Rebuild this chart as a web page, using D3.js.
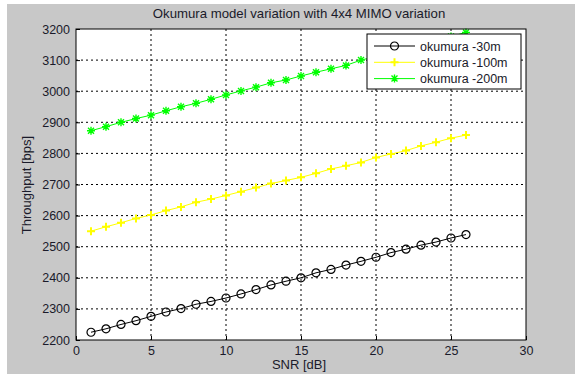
<!DOCTYPE html>
<html>
<head>
<meta charset="utf-8">
<script src="https://cdn.jsdelivr.net/npm/d3@7"></script>
<style>
  body { margin: 0; background: #fff; }
  text { font-family: 'Liberation Sans', Arial, sans-serif; fill: #1a1a2a; }
</style>
</head>
<body>
<div id="chart"></div>
<script>
// SNR points (dB)
const snr = d3.range(1, 27);

const okumura30 = [2225, 2236, 2250, 2262, 2276, 2290, 2301, 2315, 2324, 2335, 2348, 2362, 2377,
  2389, 2400, 2416, 2427, 2441, 2453, 2466, 2481, 2492, 2505, 2515, 2528, 2539];
const okumura100 = [2550, 2564, 2577, 2591, 2602, 2616, 2628, 2643, 2653, 2665, 2677, 2690, 2703,
  2713, 2723, 2736, 2750, 2760, 2771, 2787, 2798, 2809, 2824, 2836, 2849, 2859];
const okumura200 = [2873, 2886, 2900, 2912, 2923, 2937, 2950, 2961, 2974, 2988, 3001, 3013, 3027,
  3036, 3049, 3061, 3072, 3083, 3100, 3112, 3124, 3137, 3150, 3163, 3176, 3189];

const xTicks = [0, 5, 10, 15, 20, 25, 30];
const yTicks = [2200, 2300, 2400, 2500, 2600, 2700, 2800, 2900, 3000, 3100, 3200];

const seriesNames = ['okumura -30m', 'okumura -100m', 'okumura -200m'];
const seriesColors = ['#000000', '#ffff00', '#00ff00'];
const seriesMarkers = ['circle', 'plus', 'star'];

const width = 575, height = 374;
const margin = { top: 29, right: 49, bottom: 34, left: 76 };
const innerWidth = width - margin.left - margin.right;
const innerHeight = height - margin.top - margin.bottom;

const svg = d3.select('#chart')
  .append('svg')
    .attr('width', width)
    .attr('height', height);

// figure background
svg.append('rect')
  .attr('x', 7).attr('y', 4)
  .attr('width', width - 7).attr('height', height - 4)
  .attr('fill', '#c8c8c8');

const g = svg.append('g')
  .attr('transform', `translate(${margin.left}, ${margin.top})`);

const scaleX = d3.scaleLinear().domain([0, 30]).range([0, innerWidth]);
const scaleY = d3.scaleLinear().domain([2200, 3200]).range([innerHeight, 0]);

g.append('rect')
  .attr('width', innerWidth).attr('height', innerHeight)
  .attr('fill', '#fff');

// grid
g.append('g')
  .selectAll('line')
  .data(xTicks.slice(1, -1))
  .enter().append('line')
    .attr('x1', d => scaleX(d)).attr('x2', d => scaleX(d))
    .attr('y1', 0).attr('y2', innerHeight)
    .attr('stroke', '#000').attr('stroke-dasharray', '2,3');

g.append('g')
  .selectAll('line')
  .data(yTicks.slice(1, -1))
  .enter().append('line')
    .attr('y1', d => scaleY(d)).attr('y2', d => scaleY(d))
    .attr('x1', 0).attr('x2', innerWidth)
    .attr('stroke', '#000').attr('stroke-dasharray', '2,3');

// axes
const xAxis = d3.axisBottom(scaleX).tickValues(xTicks).tickSize(-4).tickPadding(6)
  .tickFormat(d3.format('d'));
const yAxis = d3.axisLeft(scaleY).tickValues(yTicks).tickSize(-4).tickPadding(6)
  .tickFormat(d3.format('d'));

g.append('g')
  .attr('transform', `translate(0, ${innerHeight})`)
  .call(xAxis)
  .call(s => s.select('.domain').remove())
  .call(s => s.selectAll('text').attr('font-size', 12.5).attr('fill', '#1a1a2a'));

g.append('g')
  .call(yAxis)
  .call(s => s.select('.domain').remove())
  .call(s => s.selectAll('text').attr('font-size', 12.5).attr('fill', '#1a1a2a'));

const plotArea = g.append('g');

function marker(sel, type, color) {
  if (type === 'circle') {
    sel.append('circle').attr('r', 4)
      .attr('fill', 'none').attr('stroke', color).attr('stroke-width', 1.2);
  } else if (type === 'plus') {
    sel.append('path').attr('d', 'M-4,0H4M0,-4V4')
      .attr('stroke', color).attr('stroke-width', 2);
  } else {
    sel.append('path').attr('d', 'M-4,0H4M0,-4V4M-3,-3L3,3M-3,3L3,-3')
      .attr('stroke', color).attr('stroke-width', 1.4);
  }
}

const line = d3.line()
  .x((d, i) => scaleX(snr[i]))
  .y(d => scaleY(d));

[okumura30, okumura100, okumura200].forEach((values, k) => {
  plotArea.append('path')
    .datum(values)
    .attr('d', line)
    .attr('fill', 'none')
    .attr('stroke', seriesColors[k])
    .attr('stroke-width', 1);

  plotArea.selectAll(`.m${k}`)
    .data(values)
    .enter().append('g')
      .attr('class', `m${k}`)
      .attr('transform', (d, i) => `translate(${scaleX(snr[i])}, ${scaleY(d)})`)
      .each(function () { marker(d3.select(this), seriesMarkers[k], seriesColors[k]); });
});

// frame
g.append('rect')
  .attr('width', innerWidth).attr('height', innerHeight)
  .attr('fill', 'none').attr('stroke', '#000').attr('stroke-width', 1);

// legend
const legend = g.append('g')
  .attr('transform', `translate(${367 - margin.left}, ${34 - margin.top})`);

legend.append('rect')
  .attr('width', 154).attr('height', 55)
  .attr('fill', '#fff').attr('stroke', '#000');

seriesNames.forEach((name, k) => {
  const row = legend.append('g').attr('transform', `translate(0, ${12 + k * 16.3})`);
  row.append('line')
    .attr('x1', 7).attr('x2', 48)
    .attr('stroke', seriesColors[k]);
  marker(row.append('g').attr('transform', 'translate(27.5, 0)'), seriesMarkers[k], seriesColors[k]);
  row.append('text')
    .attr('x', 53).attr('y', 4.5)
    .attr('font-size', 12.5)
    .text(name);
});

// title and labels
svg.append('text')
  .attr('x', 299).attr('y', 18)
  .attr('text-anchor', 'middle')
  .attr('font-size', 13.2)
  .text('Okumura model variation with 4x4 MIMO variation');

svg.append('text')
  .attr('x', 299).attr('y', 369)
  .attr('text-anchor', 'middle')
  .attr('font-size', 13)
  .text('SNR [dB]');

svg.append('text')
  .attr('transform', 'translate(31, 185) rotate(-90)')
  .attr('text-anchor', 'middle')
  .attr('font-size', 13)
  .text('Throughput [bps]');
</script>
</body>
</html>
